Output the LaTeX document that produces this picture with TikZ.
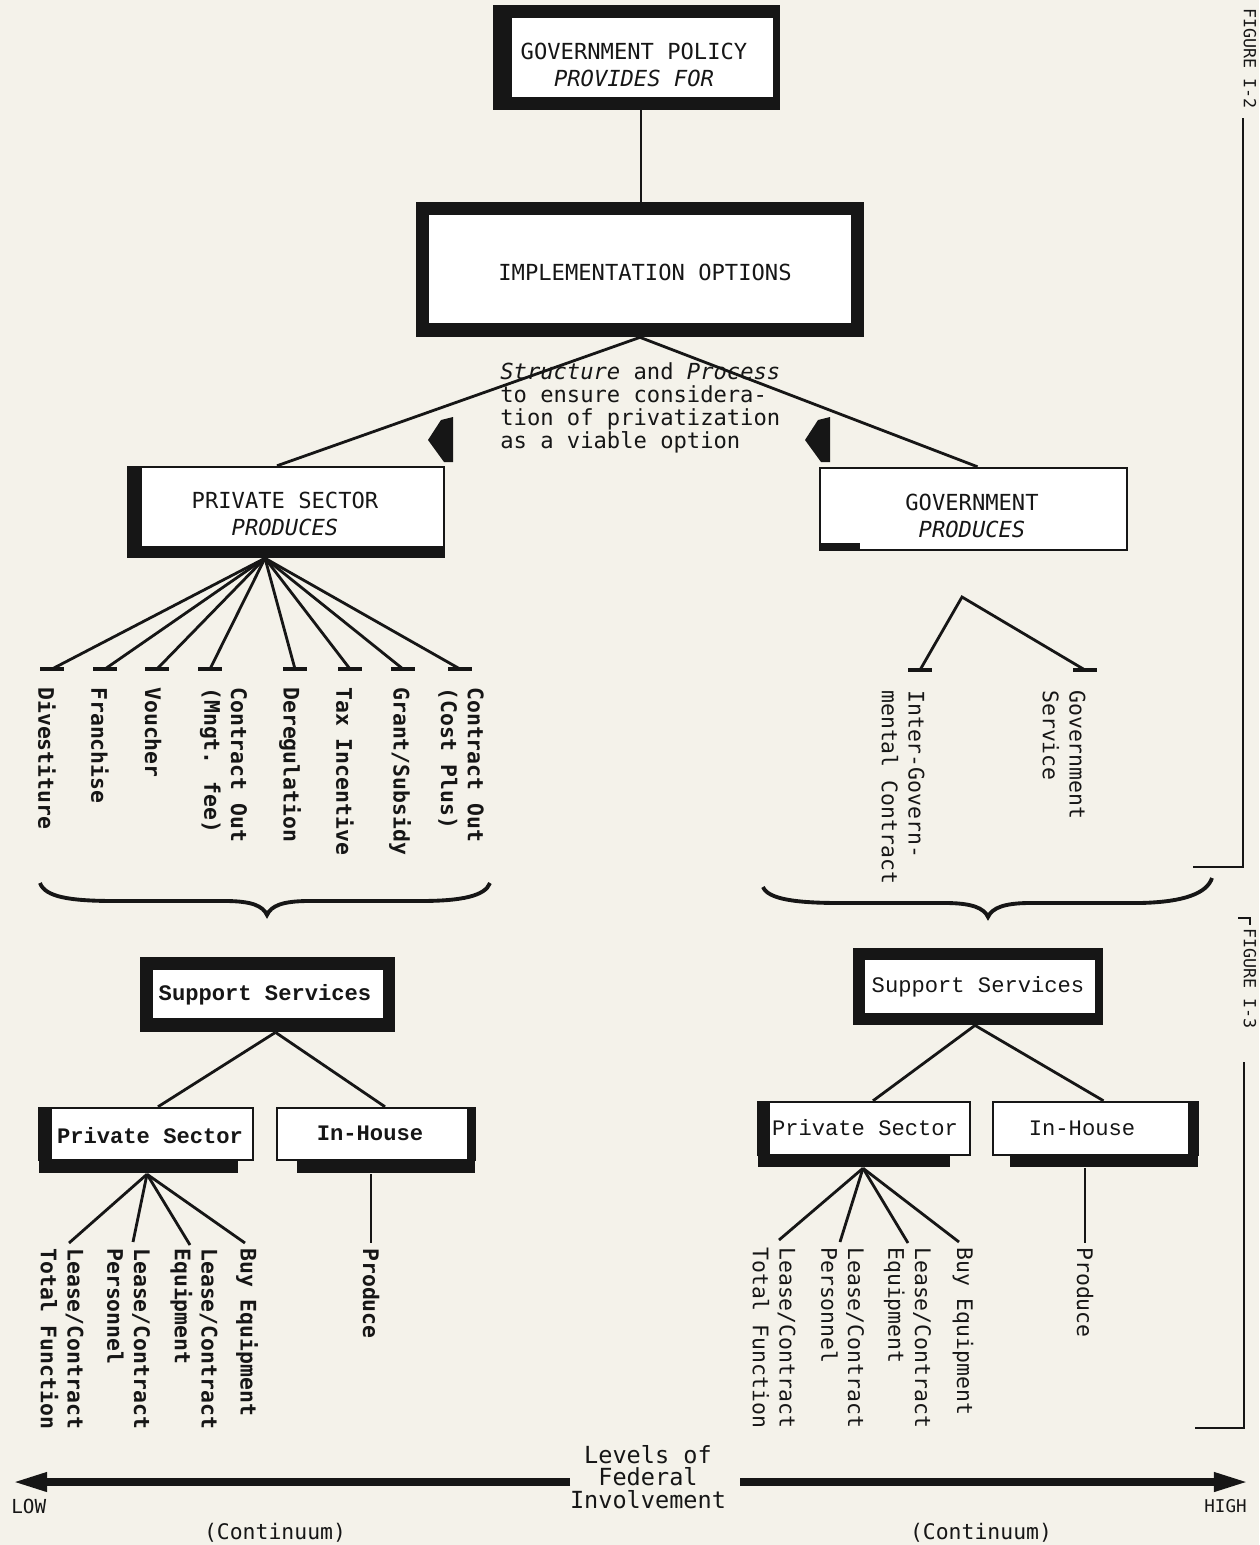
\documentclass[tikz,border=0pt]{standalone}
\usepackage{fontspec}
\usetikzlibrary{arrows.meta,fit}
\newfontfamily\dmono{DejaVu Sans Mono}
\newfontfamily\cmono{Liberation Mono}
\definecolor{paper}{RGB}{244,242,234}
\definecolor{ink}{RGB}{22,22,22}
\begin{document}
\begin{tikzpicture}[x=0.02cm,y=-0.02cm,
  solidbox/.style={fill=ink, inner sep=0pt},
  thinbox/.style={draw=ink, line width=1.4pt, fill=white, inner sep=0pt},
  conn/.style={draw=ink, line width=1.6pt},
  tbar/.style={draw=ink, line width=2.4pt},
  txt/.style={inner sep=0pt, text=ink, font=\dmono\fontsize{12.6pt}{15pt}\selectfont},
  ctxt/.style={inner sep=0pt, text=ink, font=\cmono\bfseries\fontsize{12.6pt}{15pt}\selectfont},
  lbl/.style={inner sep=0pt, text=ink, rotate=-90, anchor=west, align=left, font=\dmono\bfseries\fontsize{12.2pt}{15.3pt}\selectfont},
  lblr/.style={lbl, font=\dmono\fontsize{12.2pt}{15.3pt}\selectfont},
  bigarrow/.style={draw=ink, line width=4.4pt, -{Triangle[length=20pt,width=10pt]}},
  margin/.style={draw=ink, line width=0.9pt},
  figtxt/.style={inner sep=0pt, text=ink, rotate=-90, anchor=west, font=\dmono\fontsize{9.5pt}{11pt}\selectfont}
]
\fill[paper] (0,0) rectangle (1259,1545);
\useasboundingbox (0,0) rectangle (1259,1545);

% ---------- top boxes ----------
\node[solidbox, fit={(493,5) (780,110)}] (gp) {};
\fill[white] (512,18) rectangle (773,97);
\node[txt, align=center] (gpt) at (634,65) {GOVERNMENT POLICY\\\itshape PROVIDES FOR};

\node[solidbox, fit={(416,202) (864,337)}] (impl) {};
\fill[white] (429,215) rectangle (851,323);
\node[txt] (implt) at (645,272) {IMPLEMENTATION OPTIONS};

\draw[conn, line width=1.3pt] (gp.south -| 641,0) -- (impl.north -| 641,0);

% private sector produces
\node[thinbox, fit={(128,467) (444,557)}] (pp) {};
\fill[ink] (128,467) rectangle (142,557);
\fill[ink] (128,546) rectangle (444,557);
\node[txt, align=center] (ppt) at (285,514) {PRIVATE SECTOR\\\itshape PRODUCES};

% government produces
\node[thinbox, fit={(820,468) (1127,550)}] (gv) {};
\fill[ink] (820,543) rectangle (860,550);
\node[txt, align=center] (gvt) at (972,516) {GOVERNMENT\\\itshape PRODUCES};

\draw[conn] (impl.south) -- ([shift={(-9,0)}]pp.north);
\draw[conn] (impl.south) -- ([shift={(4,0)}]gv.north);

% structure text and pointers
\node[txt, anchor=north west, align=left, font=\dmono\fontsize{12.6pt}{13.2pt}\selectfont] (struct) at (500,362)
  {\textit{Structure} and \textit{Process}\\to ensure considera-\\tion of privatization\\as a viable option};
\fill[ink] (453,417) -- (441,420) -- (428,440) -- (444,462) -- (453,462) -- cycle;
\fill[ink] (830,417) -- (818,420) -- (805,440) -- (821,462) -- (830,462) -- cycle;

% ---------- private sector fan ----------
\foreach \nm/\x in {a/52,b/105,c/157,d/210,e/295,f/350,g/403,h/460}{
  \coordinate (pf\nm) at (\x,669);
  \draw[conn] ([shift={(-21,0)}]pp.south) -- (pf\nm);
  \draw[tbar] ([shift={(-12,0)}]pf\nm) -- ([shift={(12,0)}]pf\nm);
}
\node[lbl] (l1) at (47,687) {Divestiture};
\node[lbl] (l2) at (100,687) {Franchise};
\node[lbl] (l3) at (153,687) {Voucher};
\node[lbl] (l4) at (223.5,687) {Contract Out\\(Mngt. fee)};
\node[lbl] (l5) at (290,687) {Deregulation};
\node[lbl] (l6) at (345,687) {Tax Incentive};
\node[lbl] (l7) at (400,687) {Grant/Subsidy};
\node[lbl] (l8) at (461,687) {Contract Out\\(Cost Plus)};

% ---------- government fan ----------
\coordinate (gapex) at (962,597);
\coordinate (gfa) at (920,670);
\coordinate (gfb) at (1085,670);
\draw[conn] (gfa) -- (gapex) -- (gfb);
\draw[tbar] ([shift={(-12,0)}]gfa) -- ([shift={(12,0)}]gfa);
\draw[tbar] ([shift={(-12,0)}]gfb) -- ([shift={(12,0)}]gfb);
\node[lblr] (g1) at (903,690) {Inter-Govern-\\mental Contract};
\node[lblr] (g2) at (1064,690) {Government\\Service};

% ---------- braces ----------
\draw[draw=ink, line width=2.2pt] (40,883) .. controls (45,897) and (70,901) .. (115,901) -- (225,901)
  .. controls (252,901) and (263,906) .. (267,915) .. controls (271,906) and (282,901) .. (309,901)
  -- (420,901) .. controls (462,901) and (485,896) .. (490,883);
\draw[draw=ink, line width=2.2pt] (763,887) .. controls (768,899) and (795,903) .. (840,903) -- (945,903)
  .. controls (972,903) and (984,908) .. (988,917) .. controls (992,908) and (1004,903) .. (1030,903)
  -- (1140,903) .. controls (1185,902) and (1207,893) .. (1212,878);

% ---------- lower left ----------
\node[solidbox, fit={(140,957) (395,1032)}] (ssl) {};
\fill[white] (153,970) rectangle (383,1018);
\node[ctxt] (sslt) at (265,995) {Support Services};

\node[thinbox, fit={(39,1108) (253,1160)}] (psl) {};
\fill[ink] (39,1108) rectangle (52,1173);
\fill[ink] (39,1160) rectangle (238,1173);
\node[ctxt] (pslt) at (150,1136) {Private Sector};

\node[thinbox, fit={(277,1108) (475,1160)}] (ihl) {};
\fill[ink] (297,1160) rectangle (475,1173);
\fill[ink] (467,1108) rectangle (475,1173);
\node[ctxt] (ihlt) at (370,1133) {In-House};

\draw[conn] ([shift={(8,0)}]ssl.south) -- ([shift={(12,0)}]psl.north);
\draw[conn] ([shift={(8,0)}]ssl.south) -- ([shift={(9,0)}]ihl.north);

\foreach \nm/\x/\y in {a/69/1243,b/133/1242,c/190/1245,d/245/1243}{
  \coordinate (lf\nm) at (\x,\y);
  \draw[conn] ([shift={(1,13)}]psl.south) -- (lf\nm);
}
\coordinate (lprod) at (371,1243);
\draw[conn] ([shift={(0,13)}]ihl.south -| lprod) -- (lprod);

\node[lbl] (b1) at (62,1248) {Lease/Contract\\Total Function};
\node[lbl] (b2) at (128.5,1248) {Lease/Contract\\Personnel};
\node[lbl] (b3) at (194,1248) {Lease/Contract\\Equipment};
\node[lbl] (b4) at (247,1248) {Buy Equipment};
\node[lbl] (b5) at (371,1248) {Produce};

% ---------- lower right ----------
\node[solidbox, fit={(853,948) (1103,1025)}] (ssr) {};
\fill[white] (865,960) rectangle (1095,1013);
\node[ctxt, font=\cmono\fontsize{12.6pt}{15pt}\selectfont] (ssrt) at (978,987) {Support Services};

\node[thinbox, fit={(758,1102) (970,1155)}] (psr) {};
\fill[ink] (758,1102) rectangle (770,1167);
\fill[ink] (758,1155) rectangle (950,1167);
\node[ctxt, font=\cmono\fontsize{12.6pt}{15pt}\selectfont] (psrt) at (865,1128) {Private Sector};

\node[thinbox, fit={(993,1102) (1198,1155)}] (ihr) {};
\fill[ink] (1010,1155) rectangle (1198,1167);
\fill[ink] (1188,1102) rectangle (1198,1167);
\node[ctxt, font=\cmono\fontsize{12.6pt}{15pt}\selectfont] (ihrt) at (1082,1128) {In-House};

\draw[conn] ([shift={(-3,0)}]ssr.south) -- ([shift={(9,0)}]psr.north);
\draw[conn] ([shift={(-3,0)}]ssr.south) -- ([shift={(8,0)}]ihr.north);

\foreach \nm/\x/\y in {a/779/1240,b/840/1242,c/908/1243,d/959/1242}{
  \coordinate (rf\nm) at (\x,\y);
  \draw[conn] ([shift={(-1,12)}]psr.south) -- (rf\nm);
}
\coordinate (rprod) at (1085,1243);
\draw[conn] ([shift={(0,12)}]ihr.south -| rprod) -- (rprod);

\node[lblr] (c1) at (774,1247) {Lease/Contract\\Total Function};
\node[lblr] (c2) at (842.5,1247) {Lease/Contract\\Personnel};
\node[lblr] (c3) at (907.5,1247) {Lease/Contract\\Equipment};
\node[lblr] (c4) at (963,1247) {Buy Equipment};
\node[lblr] (c5) at (1085,1247) {Produce};

% ---------- continuum ----------
\node[txt, align=center, font=\dmono\fontsize{13.4pt}{13pt}\selectfont] (lvl) at (648,1477) {Levels of\\Federal\\Involvement};
\coordinate (lowstart) at (570,1482);
\coordinate (lowend) at (12,1482);
\coordinate (highstart) at (740,1482);
\coordinate (highend) at (1249,1482);
\draw[bigarrow] (lowstart) -- (lowend);
\draw[bigarrow] (highstart) -- (highend);
\node[txt, anchor=west, font=\dmono\fontsize{11pt}{13pt}\selectfont] (low) at (11,1506) {LOW};
\node[txt, anchor=east, font=\dmono\fontsize{10pt}{12pt}\selectfont] (high) at (1247,1506) {HIGH};
\node[txt, font=\dmono\fontsize{12.2pt}{14pt}\selectfont] (cont1) at (275,1533) {(Continuum)};
\node[txt, font=\dmono\fontsize{12.2pt}{14pt}\selectfont] (cont2) at (981,1533) {(Continuum)};

% ---------- margin marks ----------
\node[figtxt] (fig2) at (1250,8) {FIGURE I-2};
\node[figtxt] (fig3) at (1250,928) {FIGURE I-3};
\draw[margin] (1243,118) -- (1243,867) -- (1193,867);
\draw[margin] (1238,918) -- (1250,918) -- (1250,925);
\draw[margin] (1244,1062) -- (1244,1428) -- (1195,1428);
\end{tikzpicture}
\end{document}
